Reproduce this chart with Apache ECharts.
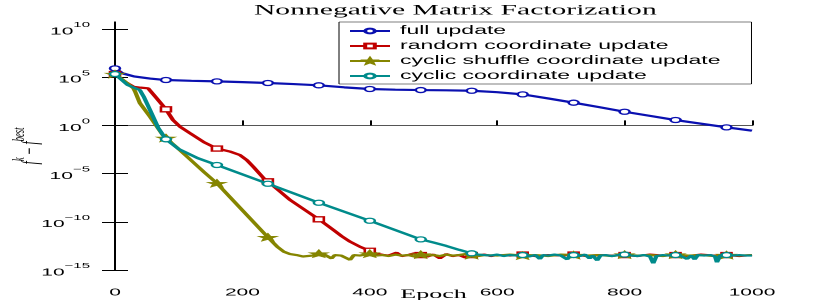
<!DOCTYPE html>
<html><head><meta charset="utf-8">
<script src="https://cdn.jsdelivr.net/npm/echarts@6/dist/echarts.min.js"></script>
<style>
html,body{margin:0;padding:0;background:#fff;overflow:hidden;}
#chart{width:415px;height:300px;transform:scaleX(2);transform-origin:0 0;}
</style></head>
<body><div id="chart"></div>
<script>
// Tick values
const xTicks = [0, 200, 400, 600, 800, 1000];
const yTickExponents = [-15, -10, -5, 0, 5, 10];
const seriesNames = ['full update', 'random coordinate update', 'cyclic shuffle coordinate update', 'cyclic coordinate update'];

// [epoch, log10(f^k - f^best)]
const fullUpdate = [[0,5.92],[12,5.40],[30,5.08],[55,4.86],[80,4.71],[120,4.63],[160,4.57],[200,4.49],[240,4.40],[280,4.29],[320,4.16],[360,3.95],[400,3.78],[440,3.71],[480,3.67],[520,3.64],[560,3.60],[600,3.45],[640,3.22],[680,2.80],[720,2.36],[760,1.90],[800,1.42],[840,0.99],[880,0.56],[920,0.18],[960,-0.20],[1000,-0.55]];

const randomUpdate = [[0,5.33],[15,4.55],[29,4.01],[40,3.92],[52,3.85],[65,2.85],[80,1.67],[91,0.56],[102,-0.13],[118,-0.82],[140,-1.75],[160,-2.4],[180,-2.7],[196,-3.07],[207,-3.6],[217,-4.28],[233,-5.45],[240,-5.8],[258,-6.8],[275,-7.74],[300,-8.85],[320,-9.74],[343,-10.85],[356,-11.5],[369,-12.06],[385,-12.6],[400,-13.0],[410,-13.3],[421,-13.44],[430,-13.5],[442,-13.2],[450,-13.55],[460,-13.45],[470,-13.27],[480,-13.45],[490,-13.6],[500,-13.4],[510,-13.79],[520,-13.35],[530,-13.55],[540,-13.45],[550,-13.7],[560,-13.45],[570,-13.5],[580,-13.4],[590,-13.55],[600,-13.45],[620,-13.5],[640,-13.4],[660,-13.55],[680,-13.45],[700,-13.5],[720,-13.4],[740,-13.55],[760,-13.45],[780,-13.5],[800,-13.45],[820,-13.55],[840,-13.4],[860,-13.5],[880,-13.45],[900,-13.55],[920,-13.4],[940,-13.5],[960,-13.45],[980,-13.55],[1000,-13.45]];

const shuffleUpdate = [[0,5.33],[15,4.6],[29,3.85],[32,3.45],[39,2.32],[55,0.9],[75,-1.0],[80,-1.3],[100,-2.45],[120,-3.65],[140,-4.85],[160,-6.0],[200,-8.8],[240,-11.6],[255,-12.6],[265,-13.1],[275,-13.35],[285,-13.45],[295,-13.6],[300,-13.4],[310,-13.5],[320,-13.3],[330,-13.45],[340,-13.8],[345,-13.45],[355,-13.5],[360,-13.4],[369,-13.95],[375,-13.45],[385,-13.5],[390,-13.35],[400,-13.3],[410,-13.5],[420,-13.45],[430,-13.55],[440,-13.4],[450,-13.5],[460,-13.45],[470,-13.6],[480,-13.4],[490,-13.5],[500,-13.45],[510,-13.55],[520,-13.4],[530,-13.5],[540,-13.45],[550,-13.35],[560,-13.45],[570,-13.55],[580,-13.45],[600,-13.5],[620,-13.4],[640,-13.5],[660,-13.45],[680,-13.55],[700,-13.4],[720,-13.45],[740,-13.5],[760,-13.45],[780,-13.55],[800,-13.4],[820,-13.5],[840,-13.45],[860,-13.55],[880,-13.4],[900,-13.5],[920,-13.45],[940,-13.55],[960,-13.45],[980,-13.5],[1000,-13.45]];

const cyclicUpdate = [[0,5.33],[20,4.19],[39,3.67],[45,3.0],[55,1.6],[68,-0.27],[80,-1.44],[100,-2.45],[130,-3.4],[160,-4.11],[240,-6.05],[320,-8.02],[400,-9.89],[480,-11.82],[500,-12.15],[520,-12.5],[540,-12.9],[560,-13.27],[570,-13.4],[580,-13.45],[590,-13.5],[600,-13.4],[610,-13.55],[620,-13.45],[630,-13.5],[640,-13.45],[650,-13.6],[660,-13.45],[667,-13.85],[672,-13.45],[680,-13.5],[690,-13.4],[700,-13.5],[706,-13.45],[710,-13.9],[714,-13.5],[720,-13.45],[730,-13.55],[738,-13.4],[745,-13.8],[750,-13.5],[757,-14.0],[762,-13.5],[770,-13.45],[780,-13.55],[790,-13.45],[800,-13.4],[810,-13.5],[820,-13.55],[830,-13.45],[840,-13.6],[845,-14.3],[850,-13.55],[860,-13.45],[870,-13.5],[880,-13.45],[890,-13.6],[898,-13.85],[905,-13.5],[910,-13.9],[915,-13.45],[925,-13.5],[935,-13.45],[942,-13.6],[945,-14.2],[950,-13.5],[960,-13.45],[970,-13.5],[980,-13.45],[990,-13.5],[1000,-13.5]];

const colors = ['#0a10b0', '#c00000', '#858500', '#008b8b'];
const STAR = 'path://M0,-10 L2.6,-3.4 L9.5,-3.1 L4.1,1.3 L5.9,8.1 L0,4.2 L-5.9,8.1 L-4.1,1.3 L-9.5,-3.1 L-2.6,-3.4 Z';

function withMarkers(arr) {
  return arr.map(function (p) {
    return (p[0] % 80 === 0) ? p : { value: p, symbol: 'none' };
  });
}

function makeSeries(idx, data, symbol, size, filled) {
  const c = colors[idx];
  return {
    name: seriesNames[idx],
    type: 'line',
    data: withMarkers(data),
    symbol: symbol,
    symbolSize: size,
    showSymbol: true,
    lineStyle: { color: c, width: 2.2 },
    itemStyle: { color: filled ? c : '#fff', borderColor: c, borderWidth: filled ? 0.5 : 1.3 },
    emphasis: { disabled: true },
    z: 2 + idx
  };
}

const supRich = {
  b: { fontFamily: 'Liberation Sans', fontSize: 10.5, color: '#000', lineHeight: 16, verticalAlign: 'bottom' },
  s: { fontFamily: 'Liberation Sans', fontSize: 7.5, color: '#000', lineHeight: 7, verticalAlign: 'top' }
};

const chart = echarts.init(document.getElementById('chart'), null, { renderer: 'canvas', width: 415, height: 300, devicePixelRatio: 2 });
chart.setOption({
  animation: false,
  backgroundColor: '#fff',
  title: {
    text: 'Nonnegative Matrix Factorization',
    left: 127, top: 3, padding: 0,
    textStyle: { fontFamily: 'Liberation Serif', fontSize: 14.8, fontWeight: 'normal', color: '#000' }
  },
  grid: { left: 57.5, right: 39, top: 22, bottom: 30, containLabel: false, outerBoundsMode: 'none' },
  legend: {
    orient: 'vertical', left: 169.5, top: 22,
    itemWidth: 20, itemHeight: 6, itemGap: 3,
    padding: [3, 15.5, 2, 4.5],
    borderColor: '#000', borderWidth: 0.5, borderRadius: 0, backgroundColor: '#fff',
    selectedMode: false,
    textStyle: { fontFamily: 'Liberation Sans', fontSize: 11.5, lineHeight: 12, color: '#000' },
    data: seriesNames
  },
  xAxis: [{
    type: 'value', position: 'bottom', min: 0, max: 1000, interval: 200,
    axisLine: { show: true, lineStyle: { color: '#555', width: 1 } },
    axisTick: { show: true, inside: true, length: 5, customValues: xTicks, lineStyle: { color: '#000', width: 1 } },
    axisLabel: { margin: 17, customValues: xTicks, formatter: function (v) { return String(v); }, fontFamily: 'Liberation Sans', fontSize: 10.5, color: '#000' },
    splitLine: { show: false },
    name: 'Epoch', nameLocation: 'middle', nameGap: 18, nameMoveOverlap: false,
    nameTextStyle: { fontFamily: 'Liberation Serif', fontSize: 13, color: '#000' }
  }, {
    type: 'value', position: 'top', min: 0, max: 1000, interval: 200,
    axisLine: { show: true, lineStyle: { color: '#555', width: 1 } },
    axisTick: { show: true, inside: false, length: 5, customValues: xTicks, lineStyle: { color: '#000', width: 1 } },
    axisLabel: { show: false },
    splitLine: { show: false }
  }],
  yAxis: [{
    type: 'value', position: 'left', min: -15, max: 10.73,
    axisLine: { show: true, lineStyle: { color: '#000', width: 1 } },
    axisTick: { show: true, inside: false, length: 6.5, customValues: yTickExponents, lineStyle: { color: '#000', width: 1 } },
    axisLabel: {
      margin: 12.5, customValues: yTickExponents,
      formatter: function (v) { return '{b|10}{s|' + String(v).replace('-', '\u2212') + '}'; },
      rich: supRich
    },
    splitLine: { show: false },
    name: '{i|f}{s|k}{m| \u2212 }{i|f}{s|best}',
    nameLocation: 'middle', nameRotate: 90, nameGap: 36, nameMoveOverlap: false,
    nameTextStyle: {
      rich: {
        i: { fontFamily: 'Liberation Serif', fontStyle: 'italic', fontSize: 12, color: '#000', lineHeight: 16, verticalAlign: 'bottom' },
        m: { fontFamily: 'Liberation Serif', fontSize: 12, color: '#000', lineHeight: 16, verticalAlign: 'bottom' },
        s: { fontFamily: 'Liberation Serif', fontStyle: 'italic', fontSize: 8.5, color: '#000', lineHeight: 8, verticalAlign: 'top' }
      }
    }
  }, {
    type: 'value', position: 'right', min: -15, max: 10.73,
    axisLine: { show: true, lineStyle: { color: '#000', width: 1 } },
    axisTick: { show: true, inside: false, length: 6.5, customValues: yTickExponents, lineStyle: { color: '#000', width: 1 } },
    axisLabel: { show: false },
    splitLine: { show: false }
  }],
  series: [
    makeSeries(0, fullUpdate, 'circle', 5, false),
    makeSeries(1, randomUpdate, 'rect', 5, false),
    makeSeries(2, shuffleUpdate, STAR, [10, 8], true),
    makeSeries(3, cyclicUpdate, 'circle', 5, false)
  ]
});
</script>
</body></html>
